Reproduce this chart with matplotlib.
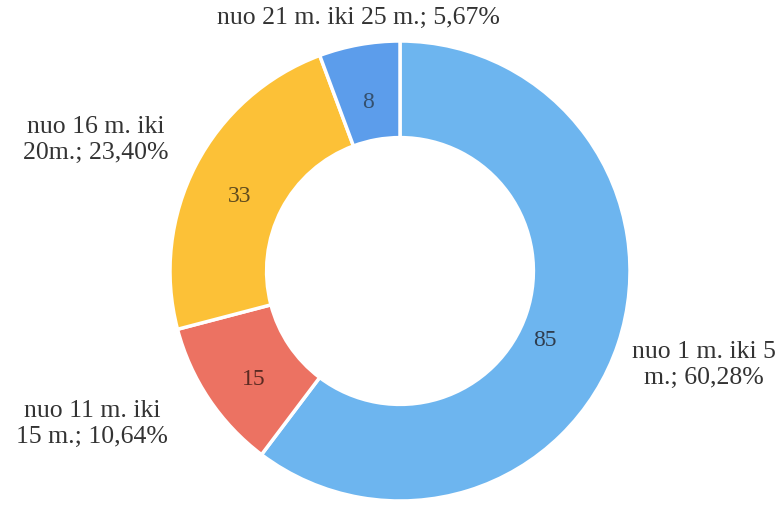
import matplotlib.pyplot as plt

# data
kategorijos = ["nuo 1 m. iki 5\nm.; 60,28%", "nuo 11 m. iki\n15 m.; 10,64%",
               "nuo 16 m. iki\n20m.; 23,40%", "nuo 21 m. iki 25 m.; 5,67%"]
reiksmes = [85, 15, 33, 8]
spalvos = ["#6DB5EF", "#EC7262", "#FCC137", "#5C9DEB"]
skaiciu_spalvos = ["#2F3D4E", "#5A2A22", "#5E4A1E", "#34506E"]

# pixel geometry of the reference
CX, CY, R = 400, 272, 230


def px(x, y):
    return (x - CX) / R, (CY - y) / R


plt.rcParams["font.family"] = ["Liberation Serif", "DejaVu Serif"]

fig = plt.figure(figsize=(7.82, 5.10), dpi=100)
ax = fig.add_axes([0, 0, 1, 1])

wedges, _ = ax.pie(
    reiksmes,
    startangle=90,
    counterclock=False,
    colors=spalvos,
    radius=1.0,
    wedgeprops=dict(width=0.42, edgecolor="white", linewidth=2.5),
)

# values inside the ring
skaiciu_vietos = [(545, 340), (254, 380), (240, 196), (368, 103)]
for v, (x, y), c in zip(reiksmes, skaiciu_vietos, skaiciu_spalvos):
    ax.text(*px(x, y), str(v), ha="center", va="center", fontsize=17, color=c)

# outside labels
etiketes_vietos = [(704, 365), (92, 424), (96, 140), (358, 18)]
for t, (x, y) in zip(kategorijos, etiketes_vietos):
    ax.text(*px(x, y), t, ha="center", va="center", fontsize=18.5,
            color="#333333", linespacing=1.2)

ax.set_xlim(-CX / R, (782 - CX) / R)
ax.set_ylim(-(510 - CY) / R, CY / R)
ax.set_aspect("equal")
ax.axis("off")

fig.savefig("out.png", dpi=100, facecolor="white")
